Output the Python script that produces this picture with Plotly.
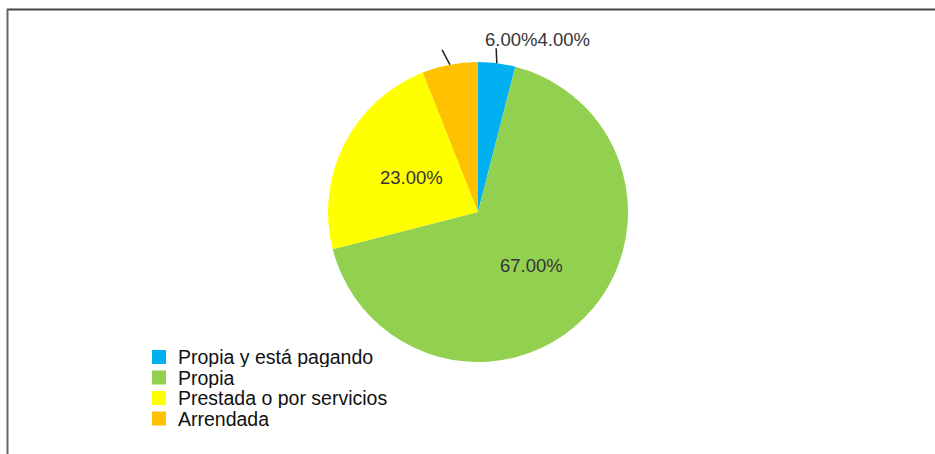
import math
import plotly.graph_objects as go

labels = ["Propia y está pagando", "Propia", "Prestada o por servicios", "Arrendada"]
values = [4, 67, 23, 6]
colors = ["#00B0F0", "#92D050", "#FFFF00", "#FFC000"]
outside_labels = ["Arrendada", "Propia y está pagando"]

W, H = 935, 454
cx, cy, R = 478, 212, 150
FONT = "Liberation Sans, Arial"

total = sum(values)

fig = go.Figure(go.Pie(
    labels=labels, values=values, sort=False, direction="clockwise", rotation=0,
    marker=dict(colors=colors, line=dict(width=0)),
    textinfo="none",
    domain=dict(x=[(cx - R) / W, (cx + R) / W], y=[1 - (cy + R) / H, 1 - (cy - R) / H]),
    hoverinfo="label+percent",
    showlegend=False,
))

def px(x, y):
    return x / W, 1 - y / H

# slice mid-angles (clockwise from 12 o'clock)
cum = 0
mids = {}
for lab, v in zip(labels, values):
    mids[lab] = (cum + v / 2) / total * 2 * math.pi
    cum += v

shapes = []
annotations = []

# inside percentage labels at half radius along mid-angle
for lab, v in zip(labels, values):
    if lab in outside_labels:
        continue
    a = mids[lab]
    x, y = px(cx + 0.5 * R * math.sin(a), cy - 0.5 * R * math.cos(a))
    annotations.append(dict(text=f"{v/total*100:.2f}%", xref="paper", yref="paper", x=x, y=y,
                            showarrow=False, xanchor="center", yanchor="middle",
                            font=dict(family=FONT, size=18.5, color="#353535")))

# leader lines for the small slices
for lab in outside_labels:
    a = mids[lab]
    x0, y0 = cx + R * math.sin(a), cy - R * math.cos(a)
    dx = -5 if a > math.pi else -2.5
    x1, y1 = cx + (R + 15) * math.sin(a) + dx, cy - (R + 15) * math.cos(a)
    (ax0, ay0), (ax1, ay1) = px(x0, y0), px(x1, y1)
    shapes.append(dict(type="line", xref="paper", yref="paper", x0=ax0, y0=ay0, x1=ax1, y1=ay1,
                       line=dict(color="#222222", width=1.5)))

outside_text = "".join(f"{values[labels.index(l)]/total*100:.2f}%" for l in outside_labels)
ox, oy = px(537, 39)
annotations.append(dict(text=outside_text, xref="paper", yref="paper", x=ox, y=oy,
                        showarrow=False, xanchor="center", yanchor="middle",
                        font=dict(family=FONT, size=18.5, color="#353535")))

# legend (square + label per category)
leg_x, leg_y0, leg_dy, sq = 152, 357, 20.5, 14
for i, (lab, col) in enumerate(zip(labels, colors)):
    yc = leg_y0 + i * leg_dy
    (sx0, sy0), (sx1, sy1) = px(leg_x, yc - sq / 2), px(leg_x + sq, yc + sq / 2)
    shapes.append(dict(type="rect", xref="paper", yref="paper", x0=sx0, x1=sx1, y0=sy0, y1=sy1,
                       fillcolor=col, line=dict(width=0)))
    tx, ty = px(176, yc)
    annotations.append(dict(text=lab, xref="paper", yref="paper", x=tx, y=ty,
                            showarrow=False, xanchor="left", yanchor="middle", height=20,
                            font=dict(family=FONT, size=19.5, color="#111111")))

# frame
shapes.append(dict(type="line", xref="paper", yref="paper", x0=7 / W, x1=1, y0=1 - 9.5 / H, y1=1 - 9.5 / H,
                   line=dict(color="#444444", width=2)))
shapes.append(dict(type="line", xref="paper", yref="paper", x0=7.5 / W, x1=7.5 / W, y0=0, y1=1 - 9 / H,
                   line=dict(color="#666666", width=2)))

fig.update_layout(
    width=W, height=H,
    margin=dict(l=0, r=0, t=0, b=0),
    paper_bgcolor="white", plot_bgcolor="white",
    shapes=shapes,
    annotations=annotations,
    showlegend=False,
)

fig.write_html("out.html", config={"displayModeBar": False},
               post_script="document.body.style.margin='0';document.body.style.overflow='hidden';")
